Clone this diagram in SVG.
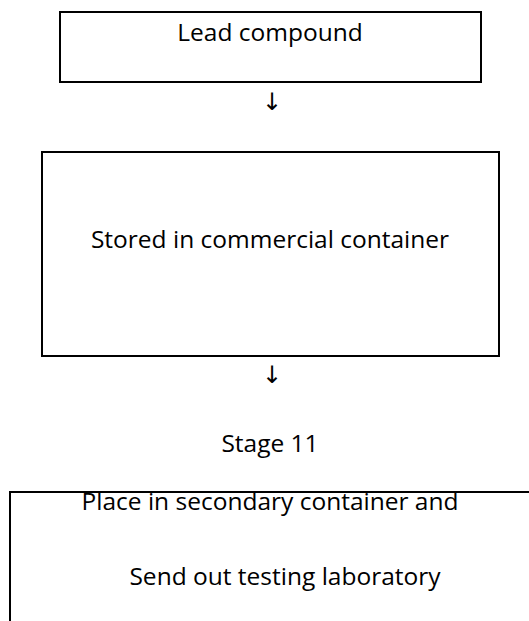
<svg xmlns="http://www.w3.org/2000/svg" width="529" height="621" viewBox="0 0 529 621">
<style>
.box{fill:#fff;stroke:#000;stroke-width:2}
.t{font-family:"Open Sans","Noto Sans","DejaVu Sans",sans-serif;font-size:24.5px;fill:#000;text-anchor:middle}
.arr{font-family:"DejaVu Sans","Liberation Sans",sans-serif;font-size:24px;fill:#000;text-anchor:middle}
</style>
<rect width="529" height="621" fill="#fff"/>
<g id="node-lead">
<rect class="box" x="60" y="12" width="421" height="70"/>
<text class="t" x="270" y="41">Lead compound</text>
</g>
<g id="node-stored">
<rect class="box" x="42" y="152" width="457" height="204"/>
<text class="t" x="270" y="248">Stored in commercial container</text>
</g>
<g id="label-stage">
<text class="t" x="270" y="452">Stage 11</text>
</g>
<g id="node-place">
<rect class="box" x="10" y="492" width="540" height="160"/>
<text class="t" x="270" y="510">Place in secondary container and</text>
<text class="t" x="285" y="585">Send out testing laboratory</text>
</g>
<g id="connectors">
<text class="arr" x="272" y="110">↓</text>
<text class="arr" x="272" y="383">↓</text>
</g>
</svg>
